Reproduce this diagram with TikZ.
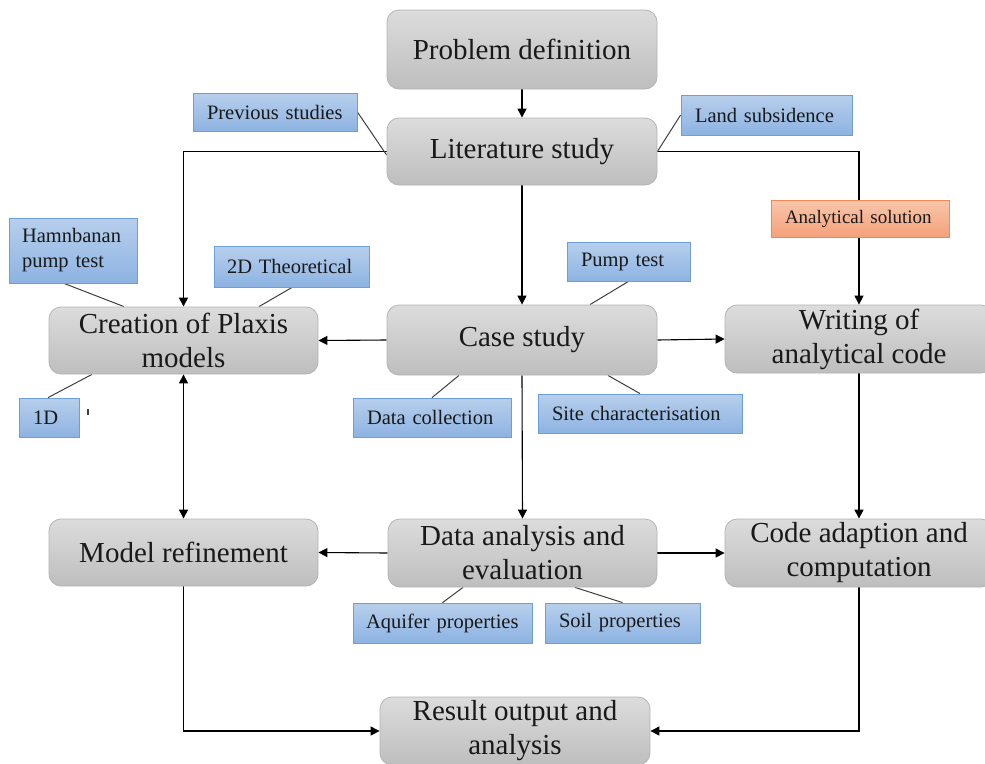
\documentclass[tikz,border=0pt]{standalone}
\usepackage{fontspec}
\setmainfont{Liberation Serif}
\usetikzlibrary{arrows.meta,positioning}
\pgfdeclarelayer{bg}
\pgfdeclarelayer{paper}
\pgfsetlayers{paper,bg,main}
\definecolor{grayTop}{HTML}{DCDCDC}
\definecolor{grayBot}{HTML}{BEBEBE}
\definecolor{grayBorder}{HTML}{B4B4B4}
\definecolor{blueTop}{HTML}{B7CFEC}
\definecolor{blueBot}{HTML}{8DB3E2}
\definecolor{blueBorder}{HTML}{6A9FDB}
\definecolor{orTop}{HTML}{F9C6AB}
\definecolor{orBot}{HTML}{F4A17A}
\definecolor{orBorder}{HTML}{EE8A55}
\definecolor{leadCol}{HTML}{404040}
\tikzset{
  x=1pt, y=-1pt,
  graybox/.style={draw=grayBorder, line width=0.8pt, rounded corners=12pt,
    top color=grayTop, bottom color=grayBot, inner sep=0pt,
    minimum width=270pt, minimum height=68pt, align=center,
    font=\fontsize{29}{34}\selectfont, text=black!90},
  bluebox/.style={draw=blueBorder, line width=0.8pt,
    top color=blueTop, bottom color=blueBot, inner sep=0pt, align=left,
    font=\fontsize{20.5}{25}\selectfont, text=black!90},
  orbox/.style={bluebox, draw=orBorder, top color=orTop, bottom color=orBot},
  arr/.style={draw=black, line width=1.1pt, -{Triangle[length=9pt,width=9pt]}},
  darr/.style={draw=black, line width=1.1pt, {Triangle[length=9pt,width=9pt]}-{Triangle[length=9pt,width=9pt]}},
  lead/.style={draw=leadCol, line width=1pt}
}
\begin{document}
\begin{tikzpicture}
\useasboundingbox (0,0) rectangle (985,763);
\begin{pgfonlayer}{paper}
\fill[white] (0,0) rectangle (985,763);
\end{pgfonlayer}
% main gray boxes
\node[graybox, minimum height=79pt] (prob) at (522,49.5) {Problem definition};
\node[graybox, minimum height=67pt] (lit) at (522,151.5) {Literature study};
\node[graybox, minimum width=269pt, minimum height=67pt] (creat) at (183.5,340.5) {Creation of Plaxis\\models};
\node[graybox, minimum height=70pt] (case) at (522,340) {Case study};
\node[graybox, minimum width=268pt] (write) at (859,339) {Writing of\\analytical code};
\node[graybox, minimum width=269pt, minimum height=67pt] (refine) at (183.5,552.5) {Model refinement};
\node[graybox, minimum width=269pt] (data) at (522.5,553) {Data analysis and\\evaluation};
\node[graybox, minimum width=268pt] (code) at (859,553) {Code adaption and\\computation};
\node[graybox] (res) at (515,731) {Result output and\\analysis};
% blue boxes
\node[bluebox, minimum width=164pt, minimum height=38pt, text width=136pt] (prev) at (275,112) {Previous studies};
\node[bluebox, minimum width=171pt, minimum height=40pt, text width=143pt] (land) at (766.5,115) {Land subsidence};
\node[orbox, minimum width=178pt, minimum height=37pt, text width=150pt, font=\fontsize{19}{23}\selectfont] (anal) at (860,218.5) {Analytical solution};
\node[bluebox, minimum width=128pt, minimum height=65pt, text width=102pt] (hamn) at (73,250.5) {Hamnbanan\\pump test};
\node[bluebox, minimum width=155pt, minimum height=41pt, text width=129pt] (twod) at (291.5,266.5) {2D Theoretical};
\node[bluebox, minimum width=123pt, minimum height=39pt, text width=95pt] (pump) at (628.5,261.5) {Pump test};
\node[bluebox, minimum width=60pt, minimum height=39pt, text width=32pt] (oned) at (49,417.5) {1D};
\node[bluebox, minimum width=158pt, minimum height=39pt, text width=130pt] (dcol) at (432,417.5) {Data collection};
\node[bluebox, minimum width=204pt, minimum height=39pt, text width=176pt] (site) at (640,413.5) {Site characterisation};
\node[bluebox, minimum width=179pt, minimum height=40pt, text width=153pt] (aqui) at (442.5,623) {Aquifer properties};
\node[bluebox, minimum width=155pt, minimum height=40pt, text width=127pt] (soil) at (622.5,623) {Soil properties};
% stray tick mark
\coordinate (tickA) at (88,409);
\coordinate (tickB) at (88,415);
\draw[leadCol, line width=1.2pt] (tickA) -- (tickB);
\begin{pgfonlayer}{bg}
% arrows
\draw[arr] (prob.south) -- (lit.north);
\draw[arr] (lit.west) -| (creat.north);
\draw[arr] (lit.east) -| (write.north);
\draw[arr] (lit.south) -- (case.north);
\draw[arr] (case.west) -- (creat.east);
\draw[arr] (case.east) -- (write.west);
\draw[arr] (case.south) -- (data.north);
\draw[darr] (creat.south) -- (refine.north);
\draw[arr] (data.west) -- (refine.east);
\draw[arr] (data.east) -- (code.west);
\draw[arr] (write.south) -- (code.north);
\draw[arr] (refine.south) |- (res.west);
\draw[arr] (code.south) |- (res.east);
% leader lines
\draw[lead] (prev.east) -- ([yshift=-3.5pt]lit.west);
\draw[lead] (land.west) -- (lit.east);
\draw[lead] ([xshift=-9pt]hamn.south) -- ([xshift=-59.5pt]creat.north);
\draw[lead] ([xshift=0.5pt]twod.south) -- ([xshift=75.5pt]creat.north);
\draw[lead] (pump.south) -- ([xshift=68pt]case.north);
\draw[lead] ([xshift=-1pt]oned.north) -- ([xshift=-91.5pt]creat.south);
\draw[lead] (dcol.north) -- ([xshift=-63pt]case.south);
\draw[lead] (site.north) -- ([xshift=86pt]case.south);
\draw[lead] (aqui.north) -- ([xshift=-59.5pt]data.south);
\draw[lead] (soil.north) -- ([xshift=52.5pt]data.south);
\end{pgfonlayer}
\end{tikzpicture}
\end{document}
